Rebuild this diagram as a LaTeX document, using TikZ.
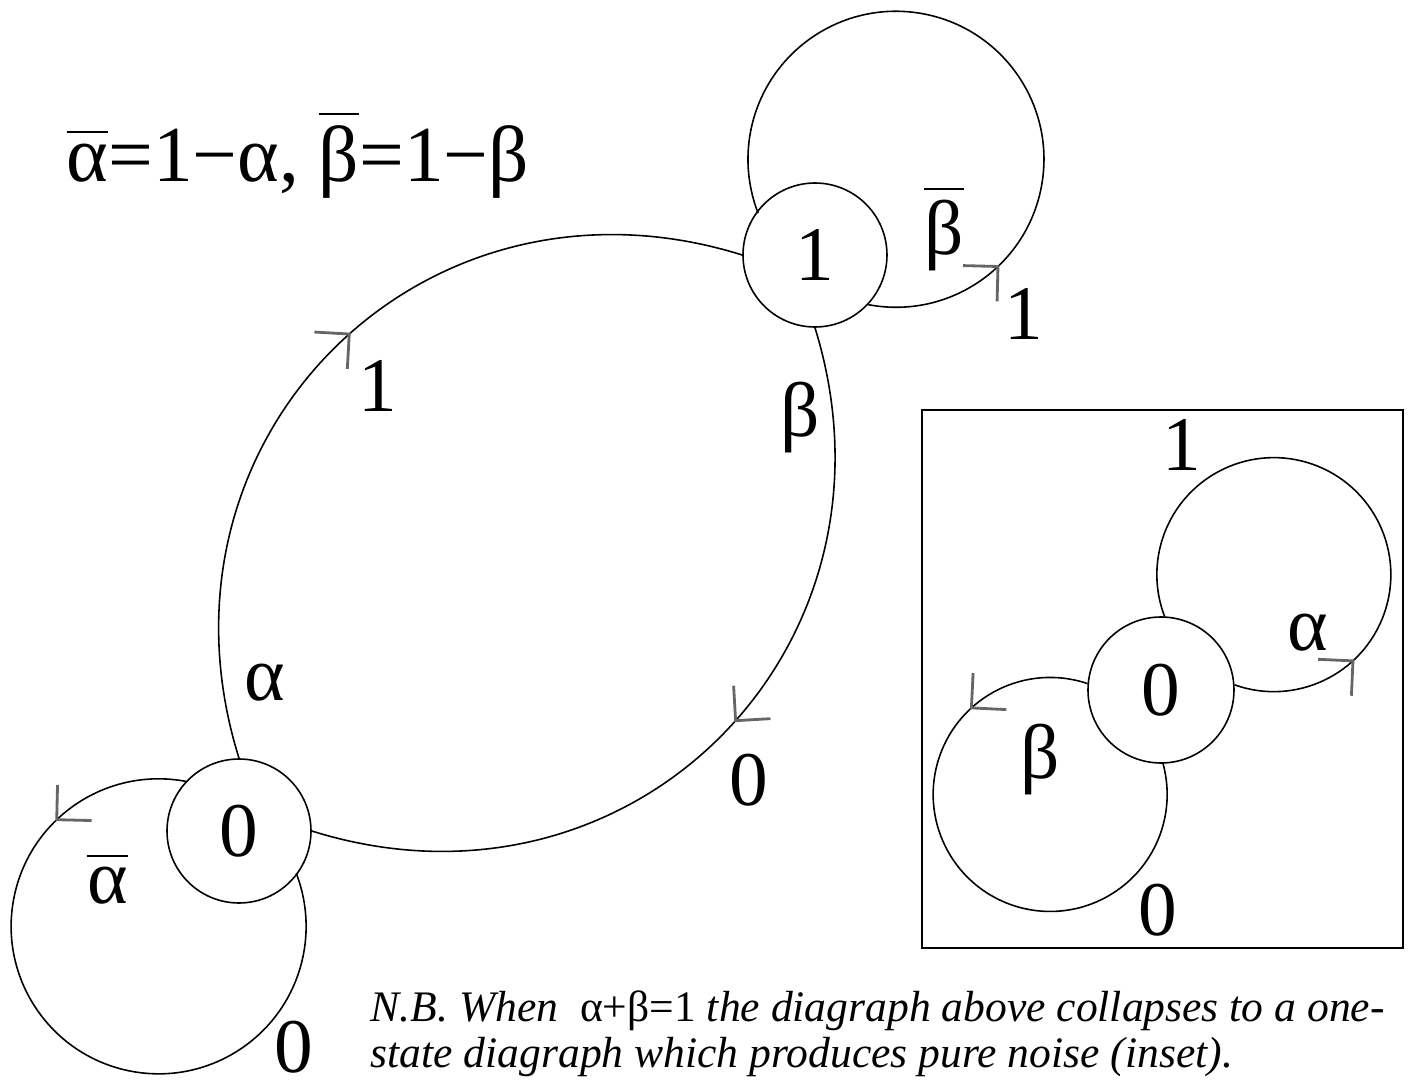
\documentclass[tikz,border=0pt]{standalone}
\usepackage{fontspec}
\setmainfont{Liberation Serif}
\usetikzlibrary{decorations.markings}

% bar over a symbol
\newcommand{\barred}[1]{\vbox{\hrule height 0.6pt\kern 0.14em\hbox{#1}}}

\begin{document}
\begin{tikzpicture}[
  state/.style={draw,circle,minimum size=1.44cm,inner sep=0pt,line width=0.45pt,font=\fontsize{22}{26}\selectfont},
  lbl/.style={inner sep=0pt,font=\fontsize{22}{26}\selectfont},
  edge/.style={line width=0.45pt},
  tickline/.style={draw=black!60,line width=0.8pt},
  tick/.style={postaction={decorate},decoration={markings,mark=at position #1 with
    {\draw[tickline] (-2.47mm,2.47mm) -- (0,0) -- (-2.47mm,-2.47mm);}}}
]
\useasboundingbox (0,0) rectangle (14.10,10.87);

\node[lbl,anchor=base west,font=\fontsize{22.6}{26}\selectfont] (def) at (0.66,9.05) {\barred{α}=1−α, \barred{β}=1−β};

% two-state diagram
\node[state] (zero) at (2.39,2.56) {0};
\node[state] (one) at (8.15,8.32) {1};

\draw[edge,tick=0.525] (zero.north) .. controls (1.39,6.49) and (4.23,9.32) .. (one.west);
\draw[edge,tick=0.475] (one.south) .. controls (9.14,4.39) and (6.31,1.56) .. (zero.east);
\draw[edge,tick=0.18] (one.-43) arc[start angle=-100.8,end angle=201.3,radius=1.48];
\draw[edge,tick=0.18] (zero.137) arc[start angle=79.4,end angle=381.1,radius=1.475];

\node[lbl,anchor=base] (alab) at (2.65,3.87) {α};
\node[lbl,anchor=base] (aone) at (3.78,6.76) {1};
\node[lbl] (blab) at (8.00,6.69) {β};
\node[lbl,anchor=base] (bzero) at (7.49,2.82) {0};
\node[lbl,anchor=base] (bbar) at (9.44,8.32) {\barred{β}};
\node[lbl,anchor=base] (bbone) at (10.24,7.48) {1};
\node[lbl,anchor=base] (abar) at (1.075,1.83) {\barred{α}};
\node[lbl,anchor=base] (abzero) at (2.94,0.14) {0};

% inset: one-state diagram
\draw[line width=0.45pt] (9.22,1.39) rectangle (14.03,6.77);
\node[state,minimum size=1.46cm] (noise) at (11.61,3.97) {0};
\draw[edge,tick=0.2] (noise.4) arc[start angle=-109.6,end angle=201.1,radius=1.17];
\draw[edge,tick=0.2] (noise.175) arc[start angle=71.4,end angle=375.9,radius=1.17];

\node[lbl,anchor=base] (none) at (11.82,6.17) {1};
\node[lbl,anchor=base] (nalpha) at (13.08,4.37) {α};
\node[lbl] (nbeta) at (10.40,3.27) {β};
\node[lbl,anchor=base] (nzero) at (11.58,1.52) {0};

\node[inner sep=0pt,anchor=north west,align=left,font=\fontsize{12.4}{13}\selectfont] (note) at (3.70,0.97)
  {\textit{N.B. When}\ \ α+β=1 \textit{the diagraph above collapses to a one-}\\
   \textit{state diagraph which produces pure noise (inset).}};
\end{tikzpicture}
\end{document}
